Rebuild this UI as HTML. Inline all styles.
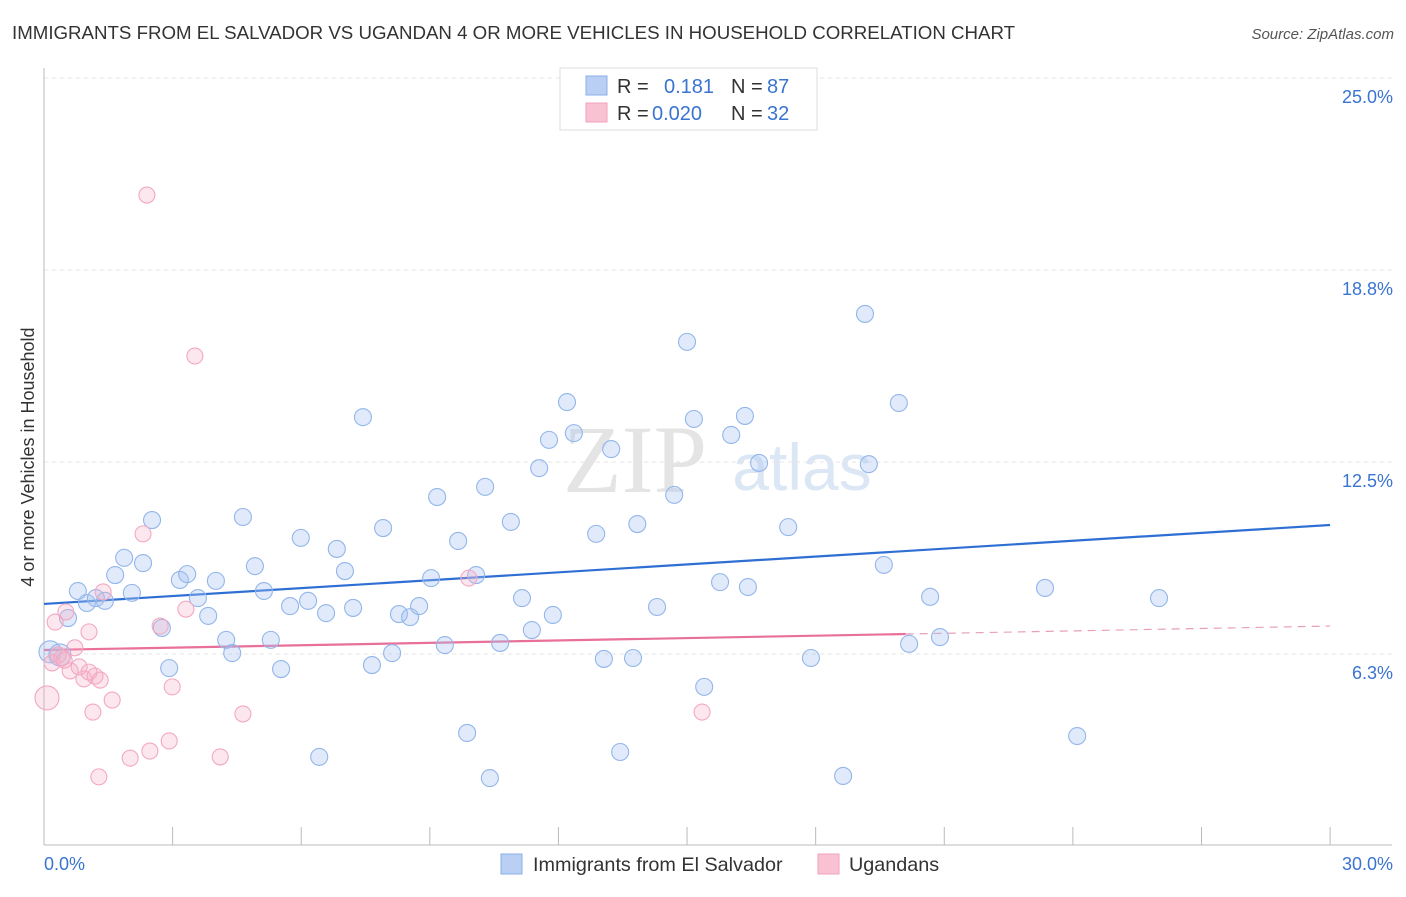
<!DOCTYPE html>
<html><head><meta charset="utf-8"><style>
body{margin:0;background:#fff;font-family:"Liberation Sans",sans-serif;}
</style></head><body>
<svg id="c" width="1406" height="892" xmlns="http://www.w3.org/2000/svg">
<text x="12" y="39" font-size="18.7" fill="#333">IMMIGRANTS FROM EL SALVADOR VS UGANDAN 4 OR MORE VEHICLES IN HOUSEHOLD CORRELATION CHART</text>
<text x="1394" y="39" font-size="15" fill="#555" font-style="italic" text-anchor="end">Source: ZipAtlas.com</text>
<g>
<text x="635" y="492" font-size="96" fill="#e4e4e4" font-family="Liberation Serif,serif" text-anchor="middle">ZIP</text>
<text x="802" y="490" font-size="66" fill="#dce7f5" text-anchor="middle">atlas</text>
</g>
<g id="grid"></g><g id="axes"></g><g id="lines"></g><g id="pts"></g>
<text transform="translate(34,457) rotate(-90)" font-size="18" fill="#333" text-anchor="middle">4 or more Vehicles in Household</text>
<g>
<rect x="560" y="68" width="257" height="62" fill="#fff" stroke="#ddd"/>
<rect x="586" y="76" width="21" height="19" fill="#b9d0f4" stroke="#8ab0e8"/>
<rect x="586" y="103" width="21" height="19" fill="#f9c2d2" stroke="#f0a0bc"/>
<text x="617" y="93" font-size="20" fill="#333">R = </text><text x="664" y="93" font-size="20" fill="#3a74d0">0.181</text>
<text x="731" y="93" font-size="20" fill="#333">N = </text><text x="767" y="93" font-size="20" fill="#3a74d0">87</text>
<text x="617" y="120" font-size="20" fill="#333">R = </text><text x="652" y="120" font-size="20" fill="#3a74d0">0.020</text>
<text x="731" y="120" font-size="20" fill="#333">N = </text><text x="767" y="120" font-size="20" fill="#3a74d0">32</text>
</g>
<g>
<rect x="501" y="854" width="21" height="20" fill="#b9d0f4" stroke="#8ab0e8"/>
<text x="533" y="871" font-size="19.8" fill="#333">Immigrants from El Salvador</text>
<rect x="818" y="854" width="21" height="20" fill="#f9c2d2" stroke="#f0a0bc"/>
<text x="849" y="871" font-size="19.8" fill="#333">Ugandans</text>
</g>
</svg>
<script>
const yTicks=[25,18.75,12.5,6.25];
const yTickLabels=["25.0%","18.8%","12.5%","6.3%"];
const xTickVals=[0,3,6,9,12,15,18,21,24,27,30];
const blueX=[0.14,0.37,0.56,0.79,1.00,1.21,1.42,1.66,1.87,2.05,2.31,2.52,2.75,2.92,3.17,3.34,3.59,3.83,4.01,4.25,4.39,4.64,4.92,5.13,5.29,5.53,5.74,5.99,6.16,6.42,6.58,6.83,7.02,7.21,7.44,7.65,7.91,8.12,8.28,8.54,8.75,9.03,9.17,9.35,9.66,9.87,10.08,10.29,10.40,10.64,10.89,11.15,11.38,11.55,11.78,11.87,12.20,12.36,12.88,13.06,13.23,13.44,13.74,13.84,14.30,14.70,15.00,15.16,15.40,15.77,16.03,16.35,16.42,16.68,17.36,17.89,18.64,19.15,19.24,19.59,19.94,20.18,20.67,20.90,23.35,24.10,26.01];
const blueY=[6.32,6.22,7.42,8.30,7.91,8.07,7.98,8.82,9.38,8.24,9.21,10.61,7.10,5.79,8.66,8.85,8.07,7.49,8.63,6.71,6.28,10.71,9.11,8.30,6.71,5.76,7.81,10.03,7.98,2.90,7.58,9.67,8.95,7.75,13.96,5.89,10.35,6.28,7.55,7.45,7.81,8.72,11.36,6.54,9.93,3.68,8.82,11.69,2.21,6.61,10.55,8.07,7.03,12.30,13.22,7.52,14.45,13.44,10.16,6.09,12.92,3.06,6.12,10.48,7.78,11.43,16.41,13.90,5.18,8.59,13.38,14.00,8.43,12.47,10.38,6.12,2.28,17.32,12.43,9.15,14.42,6.58,8.11,6.80,8.40,3.58,8.07];
const pinkX=[0.07,0.19,0.26,0.42,0.51,0.61,0.72,0.82,0.93,1.05,1.14,1.19,1.28,1.38,1.59,2.01,2.31,2.47,2.71,2.92,2.99,3.31,3.52,2.40,4.11,4.64,9.91,15.35,1.05,0.33,1.31,0.47];
const pinkY=[4.82,5.96,7.29,6.12,7.62,5.70,6.45,5.83,5.44,6.97,4.36,5.53,2.25,8.27,4.75,2.86,10.16,3.09,7.16,3.42,5.18,7.71,15.95,21.19,2.90,4.30,8.72,4.36,5.66,6.22,5.40,6.05];
const blueTrend=[7.88,10.45];
const pinkTrend=[6.38,6.90,7.16];
const X=v=>44+v*42.87, Y=v=>846-v*30.72;
const NS="http://www.w3.org/2000/svg";
function mk(p,t,a){const e=document.createElementNS(NS,t);for(const k in a)e.setAttribute(k,a[k]);p.appendChild(e);return e;}
const grid=document.getElementById('grid'),axes=document.getElementById('axes'),lines=document.getElementById('lines'),pts=document.getElementById('pts');
yTicks.forEach((v,i)=>{
 const l=mk(grid,'line',{x1:44,x2:1392,y1:Y(v),y2:Y(v),stroke:'#e4e4e4','stroke-dasharray':'4,4'});
 
 
 const t=mk(grid,'text',{x:1393,y:Y(v)+25,'font-size':18,fill:'#3a74d0','text-anchor':'end'});
 t.textContent=yTickLabels[i];
 
 
});
const ax=mk(axes,'line',{x1:44,x2:1392,y1:845,y2:845,stroke:'#bbb'});


const ay=mk(axes,'line',{x1:44,x2:44,y1:68,y2:845,stroke:'#bbb'});


xTickVals.forEach(v=>{const t=mk(axes,'line',{x1:X(v),x2:X(v),y1:827,y2:845,stroke:'#bbb'});
 
 });
const x0=mk(axes,'text',{x:44,y:870,'font-size':18,fill:'#3a74d0'});x0.textContent='0.0%';


const x1=mk(axes,'text',{x:1393,y:870,'font-size':18,fill:'#3a74d0','text-anchor':'end'});x1.textContent='30.0%';


function dot(x,y,fill,stroke,name,r){const c=mk(pts,'circle',{cx:X(x),cy:Y(y),r:r,fill:fill,stroke:stroke,'stroke-width':1.1});
 
 }
blueX.forEach((x,i)=>dot(x,blueY[i],'rgba(165,195,242,0.35)','#93b6ea',"point-el-salvador",i<2?11:8.5));
pinkX.forEach((x,i)=>dot(x,pinkY[i],'rgba(246,175,198,0.3)','#f2a8c2',"point-ugandan",i===0?12:8));
const bl=mk(lines,'line',{x1:X(0),y1:Y(blueTrend[0]),x2:X(30),y2:Y(blueTrend[1]),stroke:'#2f6fd4','stroke-width':2.2});


const pl=mk(lines,'line',{x1:X(0),y1:Y(pinkTrend[0]),x2:X(20.1),y2:Y(pinkTrend[1]),stroke:'#e8709a','stroke-width':2.2});


const pd=mk(lines,'line',{x1:X(20.1),y1:Y(pinkTrend[1]),x2:X(30),y2:Y(pinkTrend[2]),stroke:'#e8a0b8','stroke-width':1.2,'stroke-dasharray':'8,6'});


</script>
</body></html>
